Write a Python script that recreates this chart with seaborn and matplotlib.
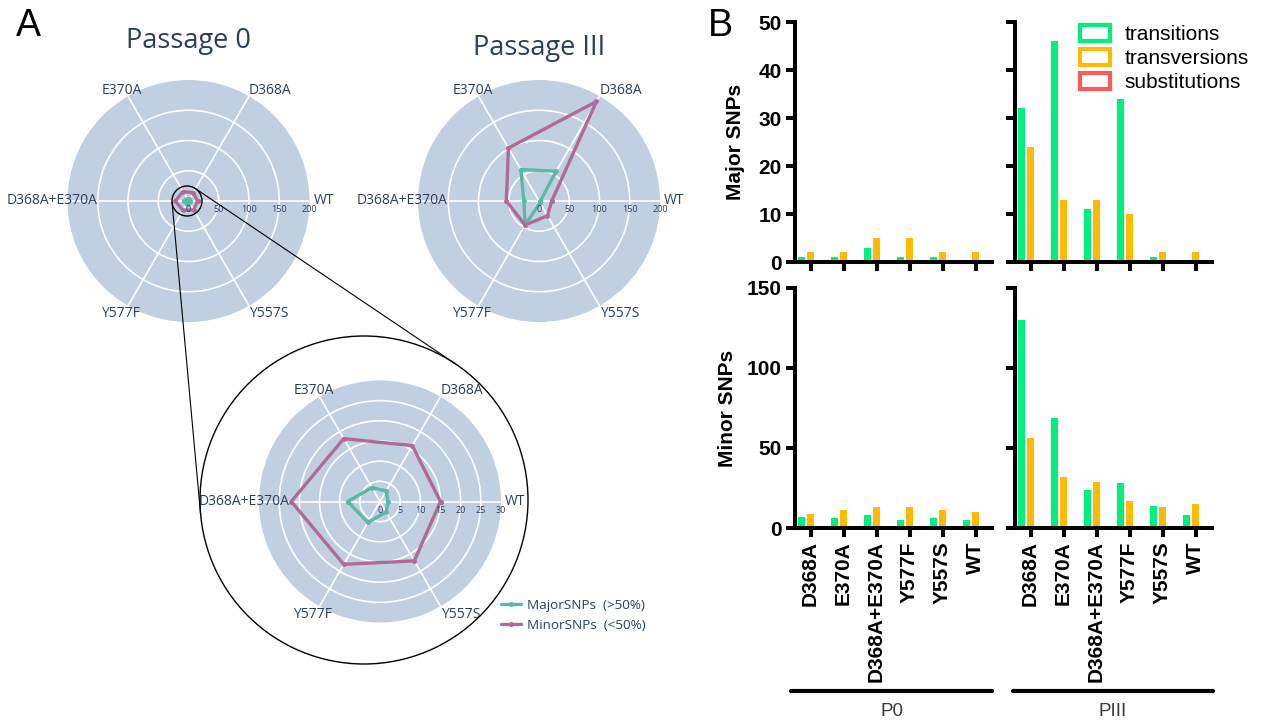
import numpy as np
import pandas as pd
import matplotlib
matplotlib.use('Agg')
import matplotlib.pyplot as plt
from matplotlib.patches import Circle, Patch
import seaborn as sns

# ---------------- data ----------------
mutants = ['D368A', 'E370A', 'D368A+E370A', 'Y577F', 'Y557S', 'WT']
snp_types = ['transitions', 'transversions', 'substitutions']

# SNP counts per mutant (order = mutants)
p0_major_ts = [1, 1, 3, 1, 1, 0]
p0_major_tv = [2, 2, 5, 5, 2, 2]
p0_minor_ts = [7, 6, 8, 5, 6, 5]
p0_minor_tv = [9, 11, 13, 13, 11, 10]
p3_major_ts = [32, 46, 11, 34, 1, 0]
p3_major_tv = [24, 13, 13, 10, 2, 2]
p3_minor_ts = [130, 69, 24, 28, 14, 8]
p3_minor_tv = [56, 32, 29, 17, 13, 15]
subst = [0, 0, 0, 0, 0, 0]

# radar charts (order = radar_labels, counter-clockwise from WT)
radar_labels = ['WT', 'D368A', 'E370A', 'D368A+E370A', 'Y577F', 'Y557S']
p0_major_radar = [2, 3, 4, 8, 6, 3]
p0_minor_radar = [15, 16, 18, 22, 18, 17]
p3_major_radar = [2, 57, 60, 25, 46, 3]
p3_minor_radar = [21, 190, 101, 54, 46, 28]

# ---------------- style ----------------
NAVY = '#2a3f5f'
DISK = '#c1cfe3'
TEAL = '#5bb8a6'
MAUVE = '#b06a98'
bar_colors = ['#00f080', '#ffbb00', '#ff5a5a']

W, H = 1261, 720
sns.set_style('ticks')
plt.rcParams['font.family'] = ['Liberation Sans', 'DejaVu Sans']
for k in ['text.color', 'axes.labelcolor', 'xtick.color', 'ytick.color', 'axes.edgecolor']:
    plt.rcParams[k] = 'black'

fig = plt.figure(figsize=(W / 100, H / 100), dpi=100)


def px_box(left, top, width, height):
    # pixel box (top-left origin) -> figure fraction
    return [left / W, 1 - (top + height) / H, width / W, height / H]


# ========================================
# A : radar charts
# ========================================
theta = np.deg2rad(np.arange(0, 360, 60))
theta_closed = np.append(theta, 2 * np.pi)
# (ha, dx, dy) of each spoke label, pixels from the rim
label_pos = [('left', 4, 0), ('center', 21, 6), ('center', -6, 6),
             ('right', 30, 0), ('center', -7, -8), ('center', 20, -8)]
R = 121


def radar(cx, cy, rmax, rstep, major, minor):
    ax = fig.add_axes(px_box(cx - R, cy - R, 2 * R, 2 * R), projection='polar')
    ax.set_facecolor(DISK)
    for vals, col, name in [(major, TEAL, 'MajorSNPs  (>50%)'),
                            (minor, MAUVE, 'MinorSNPs  (<50%)')]:
        r = np.append(vals, vals[0])
        sns.lineplot(x=theta_closed, y=r, sort=False, estimator=None, color=col,
                     lw=2.4, marker='o', markersize=3.5, markeredgewidth=0,
                     label=name, legend=False, ax=ax)
    ax.set_ylim(0, rmax)
    ax.set_yticks(np.arange(rstep, rmax, rstep))
    ax.set_yticklabels([])
    ax.set_xticks(theta)
    ax.set_xticklabels([])
    ax.set_xlabel('')
    ax.set_ylabel('')
    ax.grid(True, color='white', lw=1.2)
    ax.spines['polar'].set_visible(False)
    ax.tick_params(length=0)
    for rv in np.arange(0, rmax + 1, rstep):
        ax.annotate(f'{rv}', xy=(0, rv), xytext=(0, -9), textcoords='offset pixels',
                    ha='center', va='center', fontsize=6.5, color=NAVY,
                    family='Open Sans', annotation_clip=False)
    for t, lab, (ha, dx, dy) in zip(theta, radar_labels, label_pos):
        ax.annotate(lab, xy=(t, rmax), xytext=(dx, dy), textcoords='offset pixels',
                    ha=ha, va='center', fontsize=10, color=NAVY,
                    family='Open Sans', annotation_clip=False)
    return ax


radar(188.5, 201, 200, 50, p0_major_radar, p0_minor_radar)
radar(539, 201, 200, 50, p3_major_radar, p3_minor_radar)
ax_zoom = radar(380, 501.5, 30, 5, p0_major_radar, p0_minor_radar)

fig.text(188 / W, 1 - 41 / H, 'Passage 0', ha='center', va='center',
         fontsize=19.5, color=NAVY, family='Open Sans')
fig.text(539 / W, 1 - 48 / H, 'Passage III', ha='center', va='center',
         fontsize=19.5, color=NAVY, family='Open Sans')

leg = ax_zoom.legend(loc='upper left', bbox_to_anchor=(501 / W, 1 - 599 / H),
                     bbox_transform=fig.transFigure, frameon=False,
                     handlelength=1.5, handletextpad=0.4, labelspacing=0.5,
                     borderpad=0, borderaxespad=0,
                     prop={'family': 'Open Sans', 'size': 9.7})
for txt in leg.get_texts():
    txt.set_color(NAVY)

# ========================================
# B : bar charts
# ========================================
SPW = 2.9


def bar_panel(left, top, ts, tv, ymax, ystep, xlabels, ylabels):
    ax = fig.add_axes(px_box(left, top, 197, 240))
    df = pd.DataFrame({'mutant': mutants * 3,
                       'type': np.repeat(snp_types, len(mutants)),
                       'count': ts + tv + subst})
    sns.barplot(data=df, x='mutant', y='count', hue='type', hue_order=snp_types,
                palette=bar_colors, saturation=1, width=0.82, gap=0.3,
                linewidth=0, legend=False, ax=ax)
    ax.set_xlim(-0.47, 5.5)
    ax.set_ylim(0, ymax)
    ax.set_yticks(np.arange(0, ymax + 1, ystep))
    sns.despine(ax=ax)
    for s in ['left', 'bottom']:
        ax.spines[s].set_linewidth(SPW)
        ax.spines[s].set_color('black')
    ax.tick_params(width=SPW, length=6.5, labelsize=15, pad=3, color='black')
    ax.set_xlabel('')
    ax.set_ylabel('')
    if xlabels:
        ax.set_xticks(range(len(mutants)))
        ax.set_xticklabels(mutants, rotation=90, fontweight='bold')
    else:
        ax.set_xticklabels([])
    if ylabels:
        plt.setp(ax.get_yticklabels(), fontweight='bold')
    else:
        ax.set_yticklabels([])
    return ax


ax_tl = bar_panel(795, 22, p0_major_ts, p0_major_tv, 50, 10, False, True)
ax_tr = bar_panel(1015, 22, p3_major_ts, p3_major_tv, 50, 10, False, False)
ax_bl = bar_panel(795, 288, p0_minor_ts, p0_minor_tv, 150, 50, True, True)
ax_br = bar_panel(1015, 288, p3_minor_ts, p3_minor_tv, 150, 50, True, False)

ax_tl.set_ylabel('Major SNPs', fontsize=15, fontweight='bold')
ax_tl.yaxis.set_label_coords(-0.255, 0.5)
ax_bl.set_ylabel('Minor SNPs', fontsize=15, fontweight='bold')
ax_bl.yaxis.set_label_coords(-0.295, 0.5)

handles = [Patch(facecolor='white', edgecolor=c, linewidth=3) for c in bar_colors]
ax_tr.legend(handles, snp_types, loc='upper left',
             bbox_to_anchor=(1080 / W, 1 - 25 / H), bbox_transform=fig.transFigure,
             frameon=False, fontsize=15, handlelength=1.45, handleheight=0.8,
             handletextpad=0.7, labelspacing=0.22, borderpad=0, borderaxespad=0)

# ========================================
# overlay (pixel coords): letters, zoom circles, group brackets
# ========================================
ov = fig.add_axes([0, 0, 1, 1])
ov.set_xlim(0, W)
ov.set_ylim(H, 0)
ov.axis('off')

ov.text(28, 26, 'A', fontsize=27, ha='center', va='center', color='black')
ov.text(720, 26, 'B', fontsize=27, ha='center', va='center', color='black')

c1, r1 = np.array([187.0, 201.0]), 15.0
c2, r2 = np.array([364.0, 500.0]), 164.0
ov.add_patch(Circle(c1, r1, fill=False, ec='black', lw=1))
ov.add_patch(Circle(c2, r2, fill=False, ec='black', lw=1))
d = c2 - c1
phi = np.arctan2(d[1], d[0])
alpha = np.arccos((r2 - r1) / np.hypot(*d))
for th in (phi + alpha, phi - alpha):
    n = np.array([np.cos(th), np.sin(th)])
    p1, p2 = c1 - r1 * n, c2 - r2 * n
    ov.plot([p1[0], p2[0]], [p1[1], p2[1]], color='black', lw=0.8)

for x0, x1, name in [(791, 992, 'P0'), (1013, 1213, 'PIII')]:
    ov.plot([x0, x1], [691, 691], color='black', lw=3, solid_capstyle='round')
    ov.text((x0 + x1) / 2, 711, name, fontsize=13.5, color='#3a3a3a',
            ha='center', va='center')

fig.savefig('out.png', dpi=100)
